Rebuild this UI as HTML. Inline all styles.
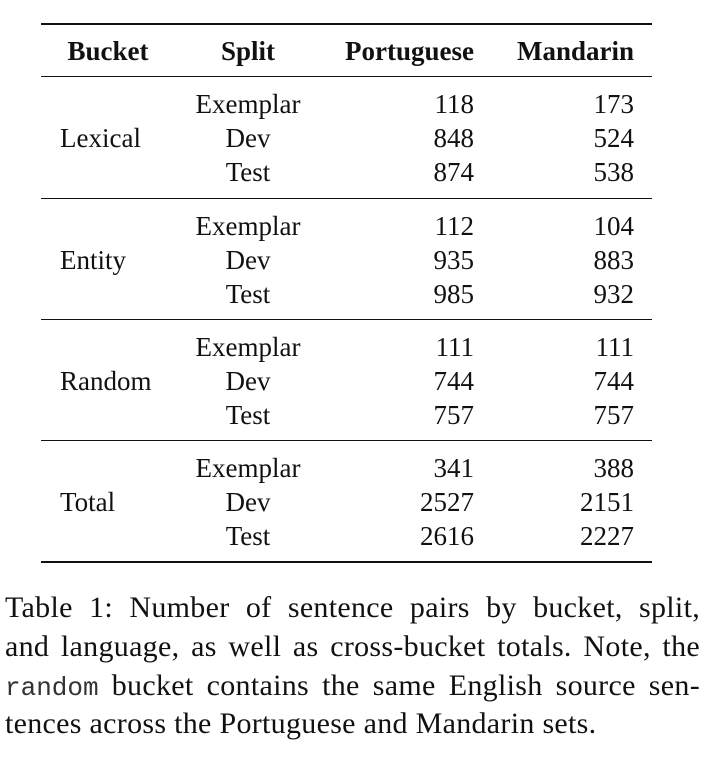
<!DOCTYPE html>
<html><head><meta charset="utf-8"><style>
body{margin:0;background:#fff;width:722px;height:758px;position:relative;overflow:hidden;font-family:"Liberation Serif",serif;color:#111;}
.t{position:absolute;font-size:27px;line-height:30px;white-space:nowrap;}
.c{transform:translateX(-50%);}
.r{transform:translateX(-100%);}
.b{font-weight:bold;}
.rule{position:absolute;left:41px;width:611px;background:#111;}
.cl{position:absolute;left:5px;width:695px;font-size:30px;letter-spacing:0.3px;line-height:38px;white-space:nowrap;}
.j{text-align:justify;text-align-last:justify;}
.mono{font-family:"Liberation Mono",monospace;font-size:26px;letter-spacing:0;color:#333;}
</style></head><body>
<div class="rule" style="top:23px;height:2px"></div>
<div class="rule" style="top:76px;height:1.3px"></div>
<div class="rule" style="top:198px;height:1.3px"></div>
<div class="rule" style="top:319px;height:1.3px"></div>
<div class="rule" style="top:440px;height:1.3px"></div>
<div class="rule" style="top:561px;height:2px"></div>

<div class="t b c" style="left:108px;top:36px">Bucket</div>
<div class="t b c" style="left:248px;top:36px">Split</div>
<div class="t b r" style="left:474px;top:36px">Portuguese</div>
<div class="t b r" style="left:634px;top:36px">Mandarin</div>

<div class="t" style="left:60px;top:123px">Lexical</div>
<div class="t c" style="left:248px;top:89px">Exemplar</div>
<div class="t c" style="left:248px;top:123px">Dev</div>
<div class="t c" style="left:248px;top:157px">Test</div>
<div class="t r" style="left:474px;top:89px">118</div><div class="t r" style="left:634px;top:89px">173</div>
<div class="t r" style="left:474px;top:123px">848</div><div class="t r" style="left:634px;top:123px">524</div>
<div class="t r" style="left:474px;top:157px">874</div><div class="t r" style="left:634px;top:157px">538</div>

<div class="t" style="left:60px;top:245px">Entity</div>
<div class="t c" style="left:248px;top:211px">Exemplar</div>
<div class="t c" style="left:248px;top:245px">Dev</div>
<div class="t c" style="left:248px;top:279px">Test</div>
<div class="t r" style="left:474px;top:211px">112</div><div class="t r" style="left:634px;top:211px">104</div>
<div class="t r" style="left:474px;top:245px">935</div><div class="t r" style="left:634px;top:245px">883</div>
<div class="t r" style="left:474px;top:279px">985</div><div class="t r" style="left:634px;top:279px">932</div>

<div class="t" style="left:60px;top:366px">Random</div>
<div class="t c" style="left:248px;top:332px">Exemplar</div>
<div class="t c" style="left:248px;top:366px">Dev</div>
<div class="t c" style="left:248px;top:400px">Test</div>
<div class="t r" style="left:474px;top:332px">111</div><div class="t r" style="left:634px;top:332px">111</div>
<div class="t r" style="left:474px;top:366px">744</div><div class="t r" style="left:634px;top:366px">744</div>
<div class="t r" style="left:474px;top:400px">757</div><div class="t r" style="left:634px;top:400px">757</div>

<div class="t" style="left:60px;top:487px">Total</div>
<div class="t c" style="left:248px;top:453px">Exemplar</div>
<div class="t c" style="left:248px;top:487px">Dev</div>
<div class="t c" style="left:248px;top:521px">Test</div>
<div class="t r" style="left:474px;top:453px">341</div><div class="t r" style="left:634px;top:453px">388</div>
<div class="t r" style="left:474px;top:487px">2527</div><div class="t r" style="left:634px;top:487px">2151</div>
<div class="t r" style="left:474px;top:521px">2616</div><div class="t r" style="left:634px;top:521px">2227</div>

<div class="cl j" style="top:589px">Table 1: Number of sentence pairs by bucket, split,</div>
<div class="cl j" style="top:628px">and language, as well as cross-bucket totals. Note, the</div>
<div class="cl j" style="top:667px"><span class="mono">random</span> bucket contains the same English source sen-</div>
<div class="cl" style="top:705px">tences across the Portuguese and Mandarin sets.</div>
</body></html>
